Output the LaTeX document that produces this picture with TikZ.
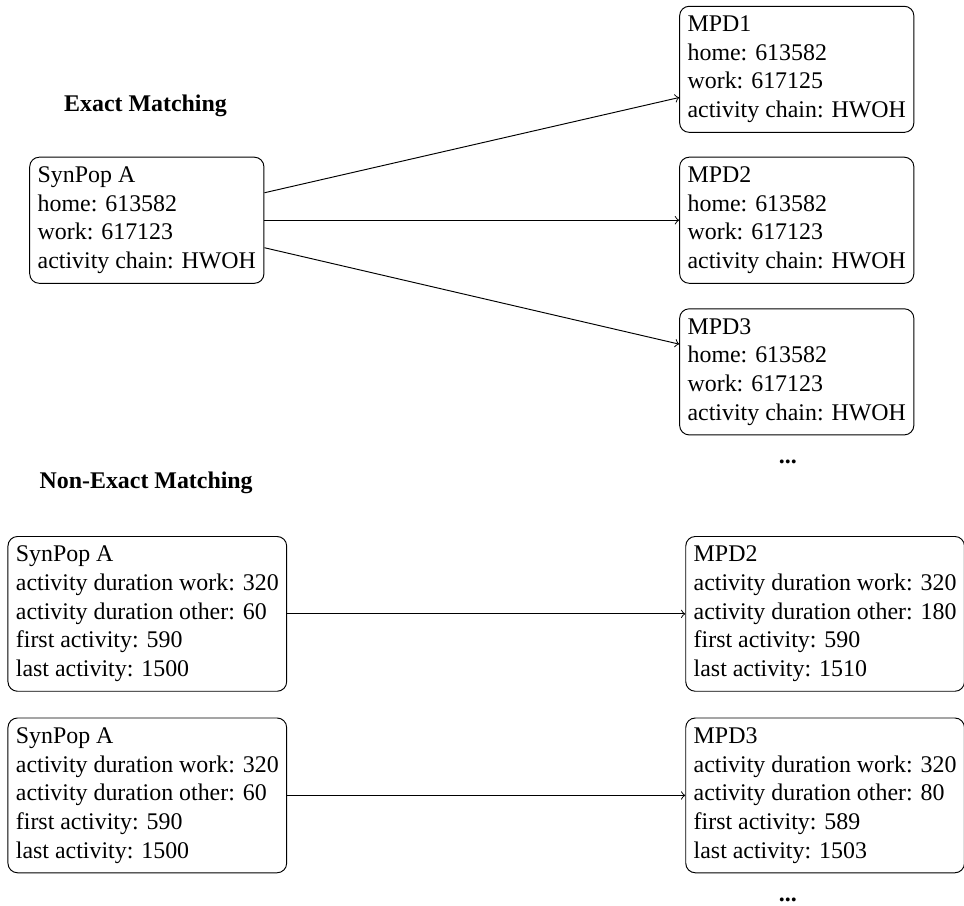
\documentclass[tikz,border=0pt]{standalone}
\usepackage{fontspec}
\setmainfont{Liberation Serif}
\usepackage{tikz}
\usetikzlibrary{arrows}
\usetikzlibrary{positioning}
\tikzset{font={\fontsize{10pt}{12}\selectfont}}

\begin{document}
\begin{tikzpicture}[
record/.style={draw,rounded corners=4pt,align=left,inner ysep=4pt,anchor=west},
heading/.style={font=\fontsize{10pt}{12}\selectfont\bfseries}
]
\useasboundingbox (0,0) rectangle (14.18,13.32);

% exact matching
\node[heading] (t1) at (2.14,11.76) {Exact Matching};
\node[record] (s) at (0.43,10.08) {SynPop A\\home: 613582\\work: 617123\\activity chain: HWOH};
\node[record] (m1) at (9.99,12.30) {MPD1\\home: 613582\\work: 617125\\activity chain: HWOH};
\node[record] (m2) at (9.99,10.08) {MPD2\\home: 613582\\work: 617123\\activity chain: HWOH};
\node[record] (m3) at (9.99,7.85) {MPD3\\home: 613582\\work: 617123\\activity chain: HWOH};
\node (d1) at (11.59,6.53) {\textbf{...}};
\draw[->] ([yshift=11.5pt]s.east) -- ([yshift=-11.8pt]m1.west);
\draw[->] (s.east) -- (m2.west);
\draw[->] ([yshift=-11.5pt]s.east) -- ([yshift=11.6pt]m3.west);

% non-exact matching
\node[heading] (t2) at (2.15,6.21) {Non-Exact Matching};
\node[record] (s1) at (0.11,4.29) {SynPop A\\activity duration work: 320\\activity duration other: 60\\first activity: 590\\last activity: 1500};
\node[record] (s2) at (0.11,1.62) {SynPop A\\activity duration work: 320\\activity duration other: 60\\first activity: 590\\last activity: 1500};
\node[record] (n2) at (10.08,4.29) {MPD2\\activity duration work: 320\\activity duration other: 180\\first activity: 590\\last activity: 1510};
\node[record] (n3) at (10.08,1.62) {MPD3\\activity duration work: 320\\activity duration other: 80\\first activity: 589\\last activity: 1503};
\node (d2) at (11.59,0.08) {\textbf{...}};
\draw[->] (s1.east) -- (n2.west);
\draw[->] (s2.east) -- (n3.west);

\end{tikzpicture}
\end{document}
